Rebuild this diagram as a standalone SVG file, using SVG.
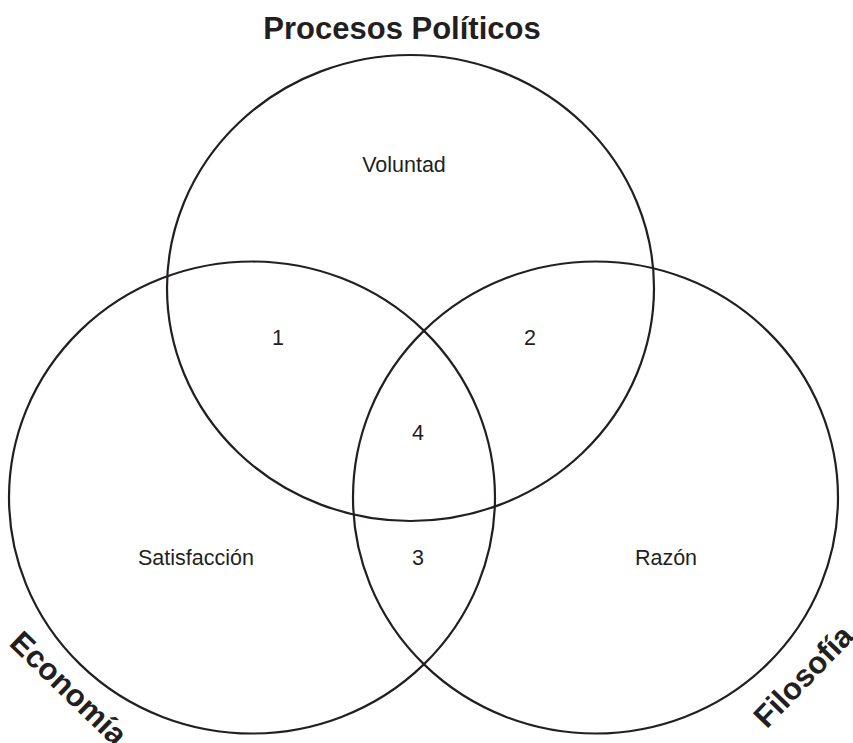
<svg xmlns="http://www.w3.org/2000/svg" width="853" height="743" viewBox="0 0 853 743">
<style>
.c{fill:none;stroke:#231f20;stroke-width:2.2}
.t{font-family:"Liberation Sans",Arial,sans-serif;font-size:21.5px;fill:#231f20;text-anchor:middle}
.h{font-family:"Liberation Sans",Arial,sans-serif;font-size:31px;font-weight:bold;fill:#231f20;text-anchor:middle}
</style>
<rect width="853" height="743" fill="#fff"/>
<g id="politicos">
<ellipse class="c" cx="410.5" cy="288" rx="243.5" ry="233"/>
<text class="h" x="402" y="39">Procesos Políticos</text>
<text class="t" x="404" y="172">Voluntad</text>
</g>
<g id="economia">
<ellipse class="c" cx="252" cy="497.5" rx="243" ry="236"/>
<text class="h" transform="translate(69,688) rotate(44)" x="0" y="11">Economía</text>
<text class="t" x="196" y="565">Satisfacción</text>
</g>
<g id="filosofia">
<ellipse class="c" cx="595.5" cy="497.5" rx="242.5" ry="236"/>
<text class="h" transform="translate(803,676) rotate(-46)" x="0" y="11">Filosofía</text>
<text class="t" x="666" y="565">Razón</text>
</g>
<g id="regions">
<text class="t" x="278" y="345">1</text>
<text class="t" x="530" y="345">2</text>
<text class="t" x="418" y="440">4</text>
<text class="t" x="418" y="565">3</text>
</g>
</svg>
